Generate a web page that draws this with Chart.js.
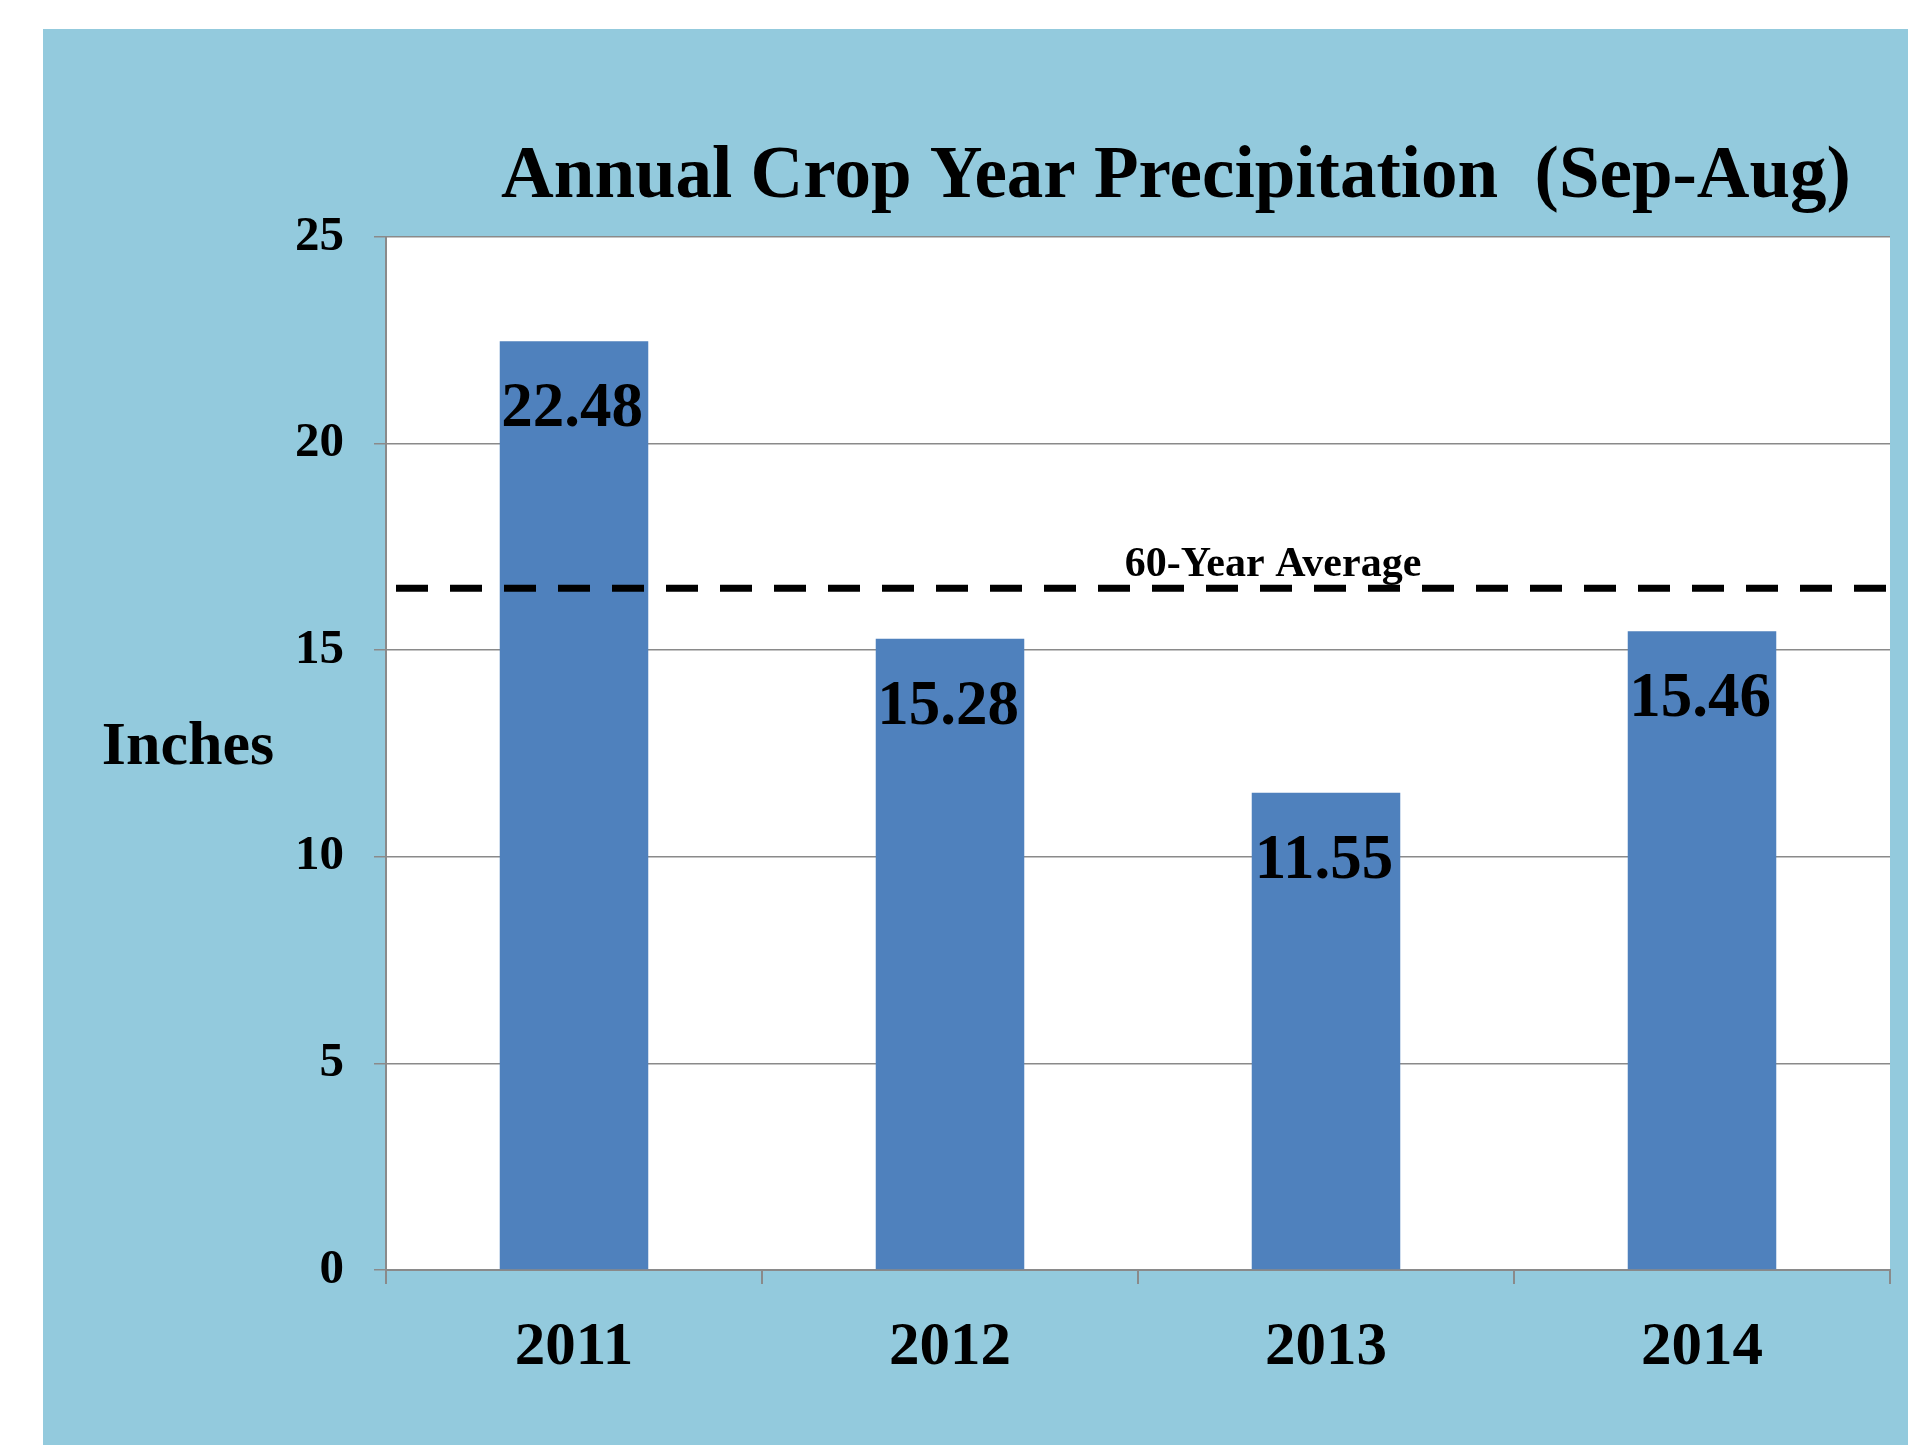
<!DOCTYPE html>
<html>
<head>
<meta charset="utf-8">
<script src="https://cdn.jsdelivr.net/npm/chart.js@4/dist/chart.umd.min.js"></script>
<style>
  html, body { margin: 0; padding: 0; background: #ffffff; }
  #wrap { width: 1908px; height: 1445px; position: relative; }
</style>
</head>
<body>
<div id="wrap"><canvas id="precipChart"></canvas></div>
<script>
/* --------------- Data --------------------- */
const years = ["2011", "2012", "2013", "2014"];
const precipInches = [22.48, 15.28, 11.55, 15.46];
const averageInches = 16.5;
const averageLabel = "60-Year Average";
const chartTitle = "Annual Crop Year Precipitation  (Sep-Aug)";
const yAxisTitle = "Inches";
const yMax = 25;
const yStep = 5;

/* --------------- Look --------------------- */
const serif = "'Liberation Serif', 'Times New Roman', serif";
const panelBlue = "#93cadd";
const barBlue = "#4f81bd";
const gridGrey = "#8a8a8a";

/* --------------- Backgrounds, title, axis title --------------------- */
const backgroundPlugin = {
  id: "backgrounds",
  beforeDraw(chart) {
    const { ctx, chartArea, width, height } = chart;
    ctx.save();
    ctx.fillStyle = "#ffffff";
    ctx.fillRect(0, 0, width, height);
    ctx.fillStyle = panelBlue;
    ctx.fillRect(43, 29, width - 43, height - 29);
    ctx.fillStyle = "#ffffff";
    ctx.fillRect(chartArea.left, chartArea.top, chartArea.right - chartArea.left, chartArea.bottom - chartArea.top);
    ctx.restore();
  },
  afterDraw(chart) {
    const { ctx } = chart;
    ctx.save();
    ctx.fillStyle = "#000000";
    ctx.textAlign = "center";
    ctx.textBaseline = "middle";
    ctx.font = "bold 73px " + serif;
    ctx.fillText(chartTitle, 1176, 178);
    ctx.font = "bold 62px " + serif;
    ctx.fillText(yAxisTitle, 188, 748);
    ctx.restore();
  },
};

/* --------------- 60-year average dashed line --------------------- */
const averagePlugin = {
  id: "averageLine",
  afterDatasetsDraw(chart) {
    const { ctx, chartArea } = chart;
    const y = chart.scales.y.getPixelForValue(averageInches);
    ctx.save();
    ctx.strokeStyle = "#000000";
    ctx.lineWidth = 7;
    ctx.setLineDash([32, 22]);
    ctx.beginPath();
    ctx.moveTo(chartArea.left + 10, y);
    ctx.lineTo(chartArea.right, y);
    ctx.stroke();
    ctx.setLineDash([]);
    ctx.fillStyle = "#000000";
    ctx.font = "bold 42px " + serif;
    ctx.textAlign = "center";
    ctx.textBaseline = "alphabetic";
    ctx.fillText(averageLabel, 1273, y - 12);
    ctx.restore();
  },
};

/* --------------- Value labels inside bar tops --------------------- */
const valueLabelPlugin = {
  id: "valueLabels",
  afterDatasetsDraw(chart) {
    const { ctx } = chart;
    const meta = chart.getDatasetMeta(0);
    ctx.save();
    ctx.fillStyle = "#000000";
    ctx.font = "bold 63px " + serif;
    ctx.textAlign = "center";
    ctx.textBaseline = "middle";
    meta.data.forEach((bar, i) => {
      ctx.fillText(precipInches[i].toFixed(2), bar.x - 2, bar.y + 69);
    });
    ctx.restore();
  },
};

/* --------------- Chart --------------------- */
new Chart(document.getElementById("precipChart"), {
  type: "bar",
  plugins: [backgroundPlugin, averagePlugin, valueLabelPlugin],
  data: {
    labels: years,
    datasets: [
      {
        data: precipInches,
        backgroundColor: barBlue,
        borderWidth: 0,
        categoryPercentage: 1,
        barPercentage: 0.395,
      },
    ],
  },
  options: {
    responsive: true,
    maintainAspectRatio: false,
    animation: false,
    layout: { padding: { left: 0, top: 237, right: 18, bottom: 0 } },
    plugins: {
      legend: { display: false },
      tooltip: { enabled: false },
      title: { display: false },
    },
    scales: {
      x: {
        afterFit(scale) { scale.height = 175; },
        grid: {
          offset: true,
          drawOnChartArea: false,
          drawTicks: true,
          tickLength: 14,
          color: gridGrey,
          lineWidth: 2,
        },
        border: { color: gridGrey, width: 2 },
        ticks: {
          color: "#000000",
          padding: 28,
          font: { family: serif, size: 61, weight: "bold" },
        },
      },
      y: {
        min: 0,
        max: yMax,
        afterFit(scale) { scale.width = 386; },
        grid: {
          color: gridGrey,
          lineWidth: 1.5,
          drawTicks: true,
          tickLength: 12,
        },
        border: { color: gridGrey, width: 2 },
        ticks: {
          stepSize: yStep,
          color: "#000000",
          padding: 30,
          font: { family: serif, size: 49, weight: "bold" },
        },
      },
    },
  },
});
</script>
</body>
</html>
